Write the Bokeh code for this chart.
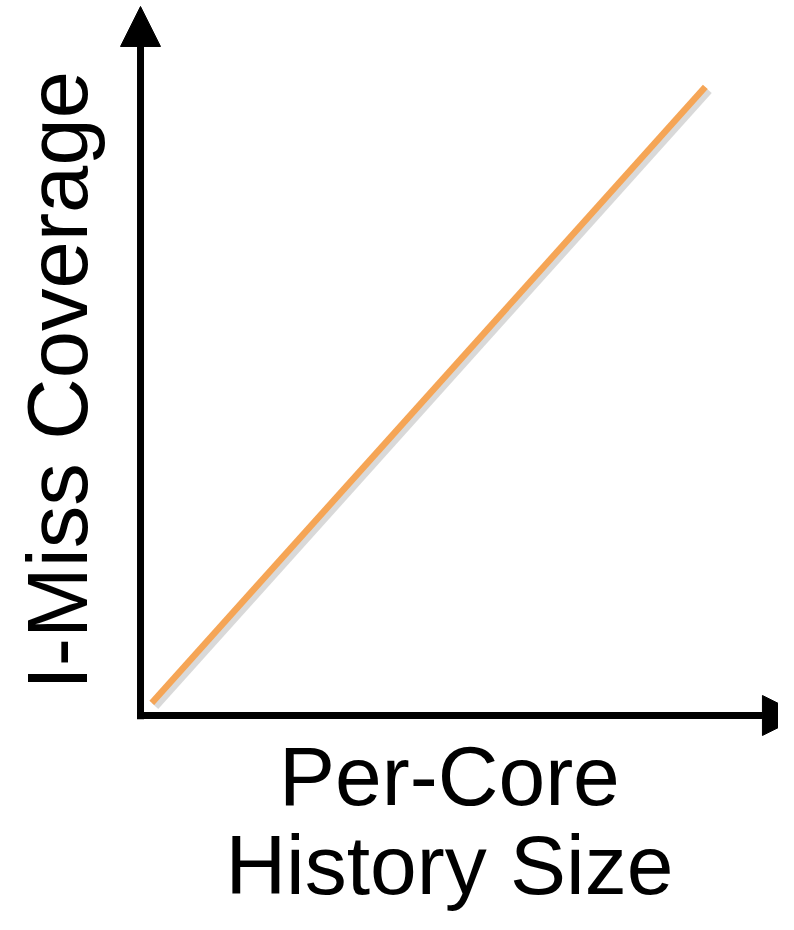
from bokeh.plotting import figure
from bokeh.models import Range1d, Arrow, NormalHead, ColumnDataSource
from bokeh.transform import dodge
from bokeh.core.properties import value
from bokeh.embed import file_html
from bokeh.resources import INLINE
import math

# ---- data ----
history_size = [2, 100]        # per-core history size (relative)
miss_coverage = [2, 100]       # I-miss coverage (relative)
y_label = "I-Miss Coverage"
x_label_lines = ["Per-Core", "History Size"]

W, H = 778, 914
FONT = "Liberation Sans"
ORANGE = "#F5A556"

p = figure(width=W, height=H, output_backend="svg", toolbar_location=None,
           x_range=Range1d(-24.79, 112.96), y_range=Range1d(-31.66, 113.75),
           min_border=0)
p.axis.visible = False
p.grid.visible = False
p.outline_line_color = None
p.background_fill_color = "white"
p.border_fill_color = "white"

src = ColumnDataSource(dict(x=history_size, y=miss_coverage))

# soft shadow of the trend line
p.line(x=dodge("x", 0.55, range=p.x_range), y=dodge("y", -0.5, range=p.y_range),
       source=src, line_color="#000000", line_alpha=0.15, line_width=9)
# trend line
p.line(x="x", y="y", source=src, line_color=ORANGE, line_width=6.5)

# axes with arrow heads
p.add_layout(Arrow(end=NormalHead(size=40, fill_color="black", line_color="black", line_width=1),
                   x_start=-0.6, y_start=0, x_end=117.2, y_end=0,
                   line_color="black", line_width=7))
p.add_layout(Arrow(end=NormalHead(size=40, fill_color="black", line_color="black", line_width=1),
                   x_start=0, y_start=-0.6, x_end=0, y_end=112.8,
                   line_color="black", line_width=7))

# axis titles
p.text(x=[-14.70], y=[53.3], text=[y_label], angle=math.pi / 2,
       text_font=value(FONT), text_font_size="85px", text_color="black",
       text_align="center", text_baseline="alphabetic")
p.text(x=[54.7, 54.7], y=[-9.6, -23.8], text=x_label_lines,
       text_font=value(FONT), text_font_size="84px", text_color="black",
       text_align="center", text_baseline="alphabetic")

open("out.html", "w").write(file_html(p, INLINE))
